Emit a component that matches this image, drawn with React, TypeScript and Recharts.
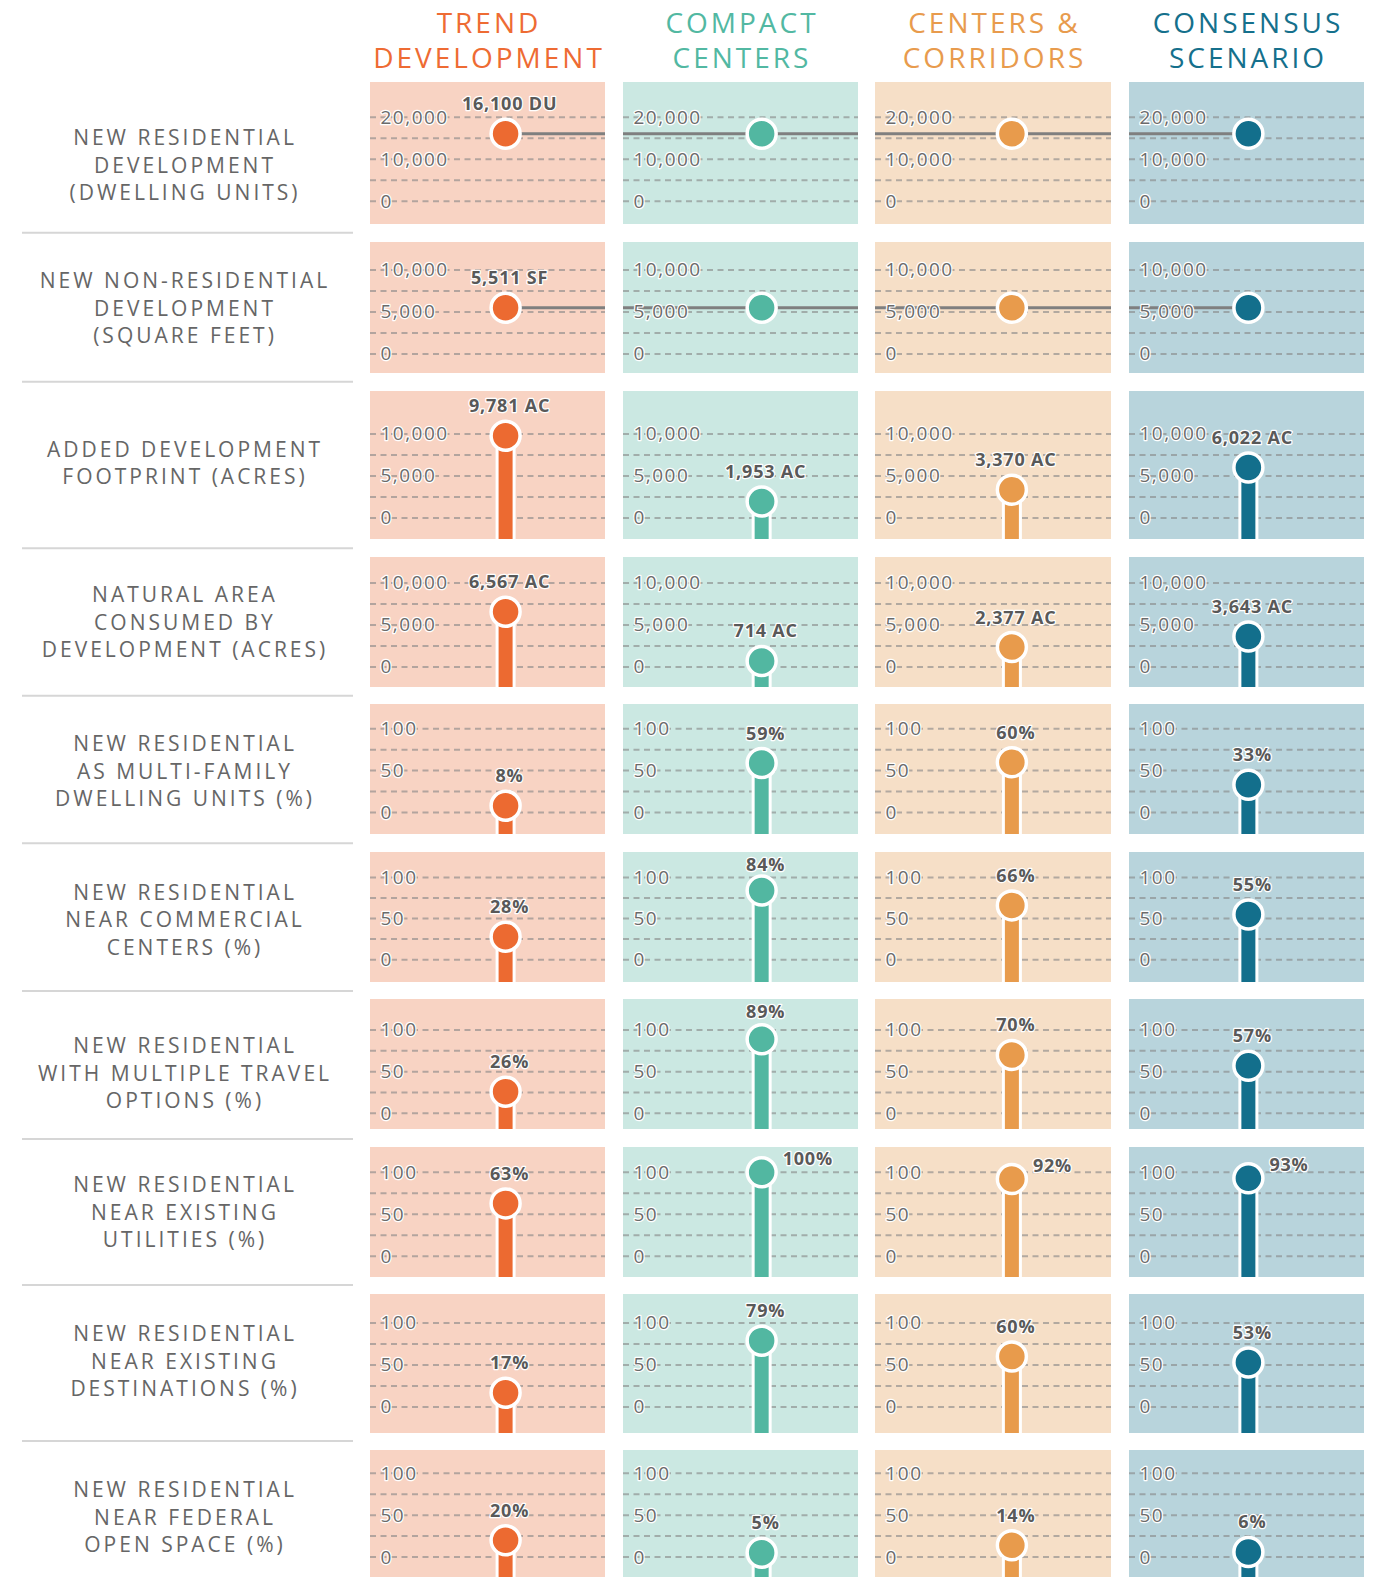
import { ComposedChart, Scatter, XAxis, YAxis, CartesianGrid, ReferenceLine } from "recharts";

// scenario headers, one array of lines per column
const scenarioNames = [
  ["TREND", "DEVELOPMENT"],
  ["COMPACT", "CENTERS"],
  ["CENTERS &", "CORRIDORS"],
  ["CONSENSUS", "SCENARIO"],
];

// indicator names down the left side
const metricNames = [
  ["NEW RESIDENTIAL", "DEVELOPMENT", "(DWELLING UNITS)"],
  ["NEW NON-RESIDENTIAL", "DEVELOPMENT", "(SQUARE FEET)"],
  ["ADDED DEVELOPMENT", "FOOTPRINT (ACRES)"],
  ["NATURAL AREA", "CONSUMED BY", "DEVELOPMENT (ACRES)"],
  ["NEW RESIDENTIAL", "AS MULTI-FAMILY", "DWELLING UNITS (%)"],
  ["NEW RESIDENTIAL", "NEAR COMMERCIAL", "CENTERS (%)"],
  ["NEW RESIDENTIAL", "WITH MULTIPLE TRAVEL", "OPTIONS (%)"],
  ["NEW RESIDENTIAL", "NEAR EXISTING", "UTILITIES (%)"],
  ["NEW RESIDENTIAL", "NEAR EXISTING", "DESTINATIONS (%)"],
  ["NEW RESIDENTIAL", "NEAR FEDERAL", "OPEN SPACE (%)"],
];

const units = [" DU", " SF", " AC", " AC", "%", "%", "%", "%", "%", "%"];

const trendValues = [16100, 5511, 9781, 6567, 8, 28, 26, 63, 17, 20];
const compactValues = [16100, 5511, 1953, 714, 59, 84, 89, 100, 79, 5];
const corridorValues = [16100, 5511, 3370, 2377, 60, 66, 70, 92, 60, 14];
const consensusValues = [16100, 5511, 6022, 3643, 33, 55, 57, 93, 53, 6];

const dwellingTicks = [0, 5000, 10000, 15000, 20000];
const acreTicks = [0, 2500, 5000, 7500, 10000];
const percentTicks = [0, 25, 50, 75, 100];
const rowTicks = [
  dwellingTicks, acreTicks, acreTicks, acreTicks,
  percentTicks, percentTicks, percentTicks, percentTicks, percentTicks, percentTicks,
];

// rows where every scenario has the same value: one connecting line, label only on the first
const sharedRows = [0, 1];
// cells whose label sits to the right of the dot
const sideLabels = ["7-1", "7-2", "7-3"];

const seriesValues = [trendValues, compactValues, corridorValues, consensusValues];

const FONT = "'Open Sans', sans-serif";

const COLUMNS = [
  { left: 370, width: 235, dot: 0.577, color: "#EC6A31", bg: "#F8D3C3", head: "#EE6B33" },
  { left: 623, width: 235, dot: 0.59, color: "#52B7A1", bg: "#CBE8E2", head: "#52B8A2" },
  { left: 875, width: 236, dot: 0.58, color: "#E89B4C", bg: "#F6DFC7", head: "#E89B4D" },
  { left: 1129, width: 235, dot: 0.508, color: "#136F8C", bg: "#B8D4DC", head: "#15708C" },
];

// panel top/bottom and the pixel rows of the top tick and of zero
const ROWS = [
  { top: 82, bottom: 224, maxY: 117.3, zeroY: 201.3, labelY: 165 },
  { top: 242, bottom: 373.3, maxY: 270, zeroY: 354, labelY: 308 },
  { top: 391, bottom: 539.3, maxY: 434, zeroY: 518, labelY: 463 },
  { top: 557, bottom: 686.7, maxY: 583, zeroY: 667, labelY: 622 },
  { top: 704.3, bottom: 834.3, maxY: 729, zeroY: 812.7, labelY: 771 },
  { top: 852.3, bottom: 981.7, maxY: 877.7, zeroY: 960, labelY: 919.7 },
  { top: 999, bottom: 1129.3, maxY: 1030, zeroY: 1113.3, labelY: 1073 },
  { top: 1146.7, bottom: 1276.7, maxY: 1172, zeroY: 1256, labelY: 1212 },
  { top: 1294.3, bottom: 1432.7, maxY: 1323.3, zeroY: 1407.3, labelY: 1361 },
  { top: 1450, bottom: 1577, maxY: 1473.3, zeroY: 1557, labelY: 1517 },
];

const SEPARATORS = [232.7, 381.7, 548.3, 695.7, 843.3, 991, 1139, 1285, 1441];

const fmt = (v: number) => v.toLocaleString("en-US");

const AxisTick = (props: any) => {
  const { y, payload, index } = props;
  if (index % 2 !== 0) return <g />;
  return (
    <text
      x={10.5}
      y={y}
      dy={6.5}
      fontFamily={FONT}
      fontSize={19}
      letterSpacing={1.5}
      fill="#6b6b6b"
      stroke="#fff"
      strokeWidth={2.5}
      strokeLinejoin="round"
      paintOrder="stroke"
    >
      {fmt(payload.value)}
    </text>
  );
};

function Panel({ row, col }: { row: number; col: number }) {
  const r = ROWS[row];
  const c = COLUMNS[col];
  const v = seriesValues[col][row];
  const ticks = rowTicks[row];
  const shared = sharedRows.includes(row);
  const showLabel = !shared || col === 0;
  const side = sideLabels.includes(`${row}-${col}`);
  const data = [{ x: c.dot, y: v, label: showLabel ? fmt(v) + units[row] : "" }];
  const height = r.bottom - r.top;

  const segment =
    col === 0
      ? [{ x: c.dot, y: v }, { x: 1, y: v }]
      : col === COLUMNS.length - 1
      ? [{ x: 0, y: v }, { x: c.dot, y: v }]
      : [{ x: 0, y: v }, { x: 1, y: v }];

  const renderDot = (p: any) => {
    const { cx, cy, payload } = p;
    const labelY = side ? cy - 14 : Math.max(cy - 30, 13);
    return (
      <g>
        {!shared && (
          <>
            <rect x={cx - 10} y={cy} width={20} height={300} fill="#fff" />
            <rect x={cx - 7} y={cy} width={14} height={300} fill={c.color} />
          </>
        )}
        <circle cx={cx} cy={cy} r={14.5} fill={c.color} stroke="#fff" strokeWidth={3.5} />
        {payload.label && (
          <text
            x={side ? cx + 21 : cx + 4}
            y={labelY}
            dy={6.5}
            textAnchor={side ? "start" : "middle"}
            fontFamily={FONT}
            fontWeight={700}
            fontSize={18}
            letterSpacing={0.8}
            fill="#595959"
            stroke="#fff"
            strokeWidth={2.5}
            strokeLinejoin="round"
            paintOrder="stroke"
          >
            {payload.label}
          </text>
        )}
      </g>
    );
  };

  return (
    <div
      style={{
        position: "absolute",
        left: c.left,
        top: r.top,
        width: c.width,
        height,
        background: c.bg,
        overflow: "hidden",
      }}
    >
      <ComposedChart
        width={c.width}
        height={height}
        data={data}
        margin={{ top: r.maxY - r.top, bottom: r.bottom - r.zeroY, left: 0, right: 0 }}
      >
        <CartesianGrid
          vertical={false}
          stroke="#858585"
          strokeOpacity={0.6}
          strokeWidth={2}
          strokeDasharray="6 4.5"
        />
        <XAxis type="number" dataKey="x" domain={[0, 1]} hide />
        <YAxis
          type="number"
          dataKey="y"
          domain={[0, ticks[ticks.length - 1]]}
          ticks={ticks}
          interval={0}
          mirror
          axisLine={false}
          tickLine={false}
          tick={<AxisTick />}
        />
        {shared && <ReferenceLine segment={segment} stroke="#7f7f7f" strokeWidth={3} />}
        <Scatter data={data} dataKey="y" isAnimationActive={false} shape={renderDot} />
      </ComposedChart>
    </div>
  );
}

export default function App() {
  return (
    <div
      style={{
        position: "absolute",
        left: 0,
        top: 0,
        width: 1379,
        height: 1577,
        background: "#fff",
        overflow: "hidden",
      }}
    >
      <svg width={1379} height={1577} style={{ position: "absolute", left: 0, top: 0 }}>
        {scenarioNames.map((lines, ci) => {
          const c = COLUMNS[ci];
          return lines.map((t, li) => (
            <text
              key={`${ci}-${li}`}
              x={c.left + c.width / 2 + 1.5}
              y={33.3 + li * 35}
              textAnchor="middle"
              fontFamily={FONT}
              fontSize={28}
              letterSpacing={3}
              fill={c.head}
            >
              {t}
            </text>
          ));
        })}
        {metricNames.map((lines, ri) => {
          const cy = ROWS[ri].labelY;
          return lines.map((t, li) => (
            <text
              key={`${ri}-${li}`}
              x={185}
              y={cy + 7.5 + (li - (lines.length - 1) / 2) * 27.5}
              textAnchor="middle"
              fontFamily={FONT}
              fontSize={21}
              letterSpacing={3}
              fill="#666"
            >
              {t}
            </text>
          ));
        })}
        {SEPARATORS.map((y) => (
          <line key={y} x1={22} x2={353} y1={y} y2={y} stroke="#d6d6d6" strokeWidth={2} />
        ))}
      </svg>
      {metricNames.map((_, ri) =>
        COLUMNS.map((__, ci) => <Panel key={`${ri}-${ci}`} row={ri} col={ci} />)
      )}
    </div>
  );
}
